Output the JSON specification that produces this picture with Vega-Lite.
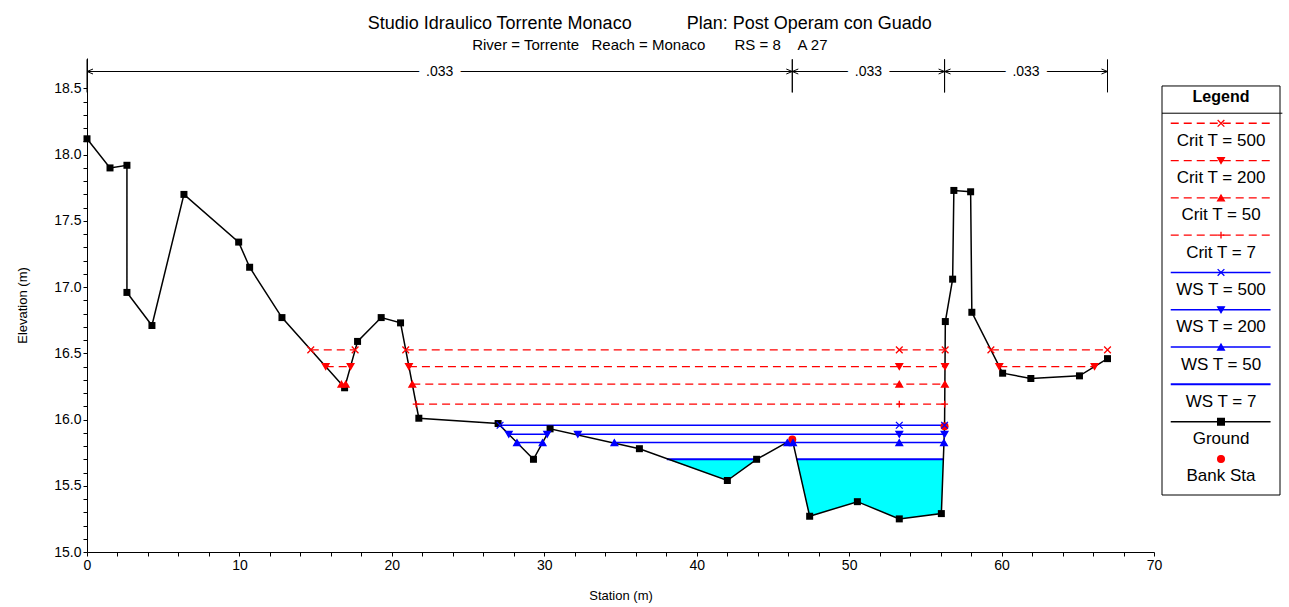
{
  "$schema": "https://vega.github.io/schema/vega-lite/v6.json",
  "background": "white",
  "padding": {"left": 16, "top": 15, "right": 4, "bottom": 2},
  "title": {
    "text": "Studio Idraulico Torrente Monaco\u00a0\u00a0\u00a0\u00a0\u00a0\u00a0\u00a0\u00a0\u00a0\u00a0\u00a0Plan: Post Operam con Guado",
    "subtitle": "River = Torrente\u00a0\u00a0\u00a0Reach = Monaco\u00a0\u00a0\u00a0\u00a0\u00a0\u00a0\u00a0RS = 8\u00a0\u00a0\u00a0\u00a0A 27",
    "font": "Liberation Sans", "fontSize": 18, "fontWeight": "normal", "color": "black",
    "subtitleFont": "Liberation Sans", "subtitleFontSize": 15, "subtitleColor": "black",
    "subtitlePadding": 5, "anchor": "middle", "offset": 5
  },
  "spacing": 8,
  "bounds": "flush",
  "datasets": {
    "ground": [
      {"i": 1, "s": 0, "e": 18.12, "bank": false},
      {"i": 2, "s": 1.51, "e": 17.9, "bank": false},
      {"i": 3, "s": 2.62, "e": 17.92, "bank": false},
      {"i": 4, "s": 2.62, "e": 16.96, "bank": false},
      {"i": 5, "s": 4.26, "e": 16.71, "bank": false},
      {"i": 6, "s": 6.36, "e": 17.7, "bank": false},
      {"i": 7, "s": 9.95, "e": 17.34, "bank": false},
      {"i": 8, "s": 10.67, "e": 17.15, "bank": false},
      {"i": 9, "s": 12.79, "e": 16.77, "bank": false},
      {"i": 10, "s": 16.9, "e": 16.24, "bank": false},
      {"i": 11, "s": 17.75, "e": 16.59, "bank": false},
      {"i": 12, "s": 19.3, "e": 16.77, "bank": false},
      {"i": 13, "s": 20.57, "e": 16.73, "bank": false},
      {"i": 14, "s": 21.77, "e": 16.01, "bank": false},
      {"i": 15, "s": 26.97, "e": 15.97, "bank": false},
      {"i": 16, "s": 29.29, "e": 15.7, "bank": false},
      {"i": 17, "s": 30.38, "e": 15.93, "bank": false},
      {"i": 18, "s": 36.24, "e": 15.78, "bank": false},
      {"i": 19, "s": 42.01, "e": 15.54, "bank": false},
      {"i": 20, "s": 43.93, "e": 15.7, "bank": false},
      {"i": 21, "s": 46.27, "e": 15.85, "bank": true},
      {"i": 22, "s": 47.41, "e": 15.27, "bank": false},
      {"i": 23, "s": 50.54, "e": 15.38, "bank": false},
      {"i": 24, "s": 53.29, "e": 15.25, "bank": false},
      {"i": 25, "s": 56.05, "e": 15.29, "bank": false},
      {"i": 26, "s": 56.26, "e": 15.95, "bank": true},
      {"i": 27, "s": 56.31, "e": 16.74, "bank": false},
      {"i": 28, "s": 56.79, "e": 17.06, "bank": false},
      {"i": 29, "s": 56.87, "e": 17.73, "bank": false},
      {"i": 30, "s": 57.97, "e": 17.72, "bank": false},
      {"i": 31, "s": 58.05, "e": 16.81, "bank": false},
      {"i": 32, "s": 60.07, "e": 16.35, "bank": false},
      {"i": 33, "s": 61.92, "e": 16.31, "bank": false},
      {"i": 34, "s": 65.11, "e": 16.33, "bank": false},
      {"i": 35, "s": 66.95, "e": 16.46, "bank": false}
    ],
    "fill": [
      {"region": "A", "s": 38.04, "e": 15.7},
      {"region": "A", "s": 42.01, "e": 15.54},
      {"region": "A", "s": 43.93, "e": 15.7},
      {"region": "B", "s": 46.55, "e": 15.7},
      {"region": "B", "s": 47.41, "e": 15.27},
      {"region": "B", "s": 50.54, "e": 15.38},
      {"region": "B", "s": 53.29, "e": 15.25},
      {"region": "B", "s": 56.05, "e": 15.29},
      {"region": "B", "s": 56.18, "e": 15.7}
    ],
    "lines": [
      {"name": "Crit T = 500", "s1": 14.68, "s2": 17.59, "e": 16.526},
      {"name": "Crit T = 500", "s1": 20.91, "s2": 56.3, "e": 16.526},
      {"name": "Crit T = 500", "s1": 59.3, "s2": 66.95, "e": 16.526},
      {"name": "Crit T = 200", "s1": 15.66, "s2": 17.29, "e": 16.4},
      {"name": "Crit T = 200", "s1": 21.12, "s2": 56.29, "e": 16.4},
      {"name": "Crit T = 200", "s1": 59.85, "s2": 66.1, "e": 16.4},
      {"name": "Crit T = 50", "s1": 16.69, "s2": 16.97, "e": 16.267},
      {"name": "Crit T = 50", "s1": 21.34, "s2": 56.28, "e": 16.267},
      {"name": "Crit T = 7", "s1": 21.59, "s2": 56.27, "e": 16.116},
      {"name": "WS T = 500", "s1": 27.08, "s2": 56.26, "e": 15.957},
      {"name": "WS T = 200", "s1": 27.67, "s2": 30.19, "e": 15.889},
      {"name": "WS T = 200", "s1": 32.1, "s2": 56.26, "e": 15.889},
      {"name": "WS T = 50", "s1": 28.21, "s2": 29.89, "e": 15.826},
      {"name": "WS T = 50", "s1": 34.55, "s2": 56.22, "e": 15.826},
      {"name": "WS T = 7", "s1": 38.04, "s2": 43.93, "e": 15.7},
      {"name": "WS T = 7", "s1": 46.55, "s2": 56.18, "e": 15.7}
    ],
    "marks": [
      {"name": "Crit T = 500", "s": 14.68, "e": 16.526},
      {"name": "Crit T = 500", "s": 17.59, "e": 16.526},
      {"name": "Crit T = 500", "s": 20.91, "e": 16.526},
      {"name": "Crit T = 500", "s": 53.29, "e": 16.526},
      {"name": "Crit T = 500", "s": 56.3, "e": 16.526},
      {"name": "Crit T = 500", "s": 59.3, "e": 16.526},
      {"name": "Crit T = 500", "s": 66.95, "e": 16.526},
      {"name": "Crit T = 200", "s": 15.66, "e": 16.4},
      {"name": "Crit T = 200", "s": 17.29, "e": 16.4},
      {"name": "Crit T = 200", "s": 21.12, "e": 16.4},
      {"name": "Crit T = 200", "s": 53.29, "e": 16.4},
      {"name": "Crit T = 200", "s": 56.29, "e": 16.4},
      {"name": "Crit T = 200", "s": 59.85, "e": 16.4},
      {"name": "Crit T = 200", "s": 66.1, "e": 16.4},
      {"name": "Crit T = 50", "s": 16.69, "e": 16.267},
      {"name": "Crit T = 50", "s": 16.97, "e": 16.267},
      {"name": "Crit T = 50", "s": 21.34, "e": 16.267},
      {"name": "Crit T = 50", "s": 53.29, "e": 16.267},
      {"name": "Crit T = 50", "s": 56.28, "e": 16.267},
      {"name": "Crit T = 7", "s": 21.59, "e": 16.116},
      {"name": "Crit T = 7", "s": 53.29, "e": 16.116},
      {"name": "Crit T = 7", "s": 56.27, "e": 16.116},
      {"name": "WS T = 500", "s": 27.1, "e": 15.957},
      {"name": "WS T = 500", "s": 53.29, "e": 15.957},
      {"name": "WS T = 500", "s": 56.26, "e": 15.957},
      {"name": "WS T = 200", "s": 27.67, "e": 15.889},
      {"name": "WS T = 200", "s": 30.19, "e": 15.889},
      {"name": "WS T = 200", "s": 32.2, "e": 15.889},
      {"name": "WS T = 200", "s": 53.29, "e": 15.889},
      {"name": "WS T = 200", "s": 56.26, "e": 15.889},
      {"name": "WS T = 50", "s": 28.21, "e": 15.826},
      {"name": "WS T = 50", "s": 29.89, "e": 15.826},
      {"name": "WS T = 50", "s": 34.6, "e": 15.826},
      {"name": "WS T = 50", "s": 45.95, "e": 15.826},
      {"name": "WS T = 50", "s": 46.32, "e": 15.826},
      {"name": "WS T = 50", "s": 53.29, "e": 15.826},
      {"name": "WS T = 50", "s": 56.22, "e": 15.826}
    ],
    "nvals": [
      {"zone": 1, "s": 0, "end": "L", "n": ".033"},
      {"zone": 1, "s": 46.27, "end": "R", "n": ".033"},
      {"zone": 2, "s": 46.27, "end": "L", "n": ".033"},
      {"zone": 2, "s": 56.26, "end": "R", "n": ".033"},
      {"zone": 3, "s": 56.26, "end": "L", "n": ".033"},
      {"zone": 3, "s": 66.95, "end": "R", "n": ".033"}
    ],
    "legend": [
      {"name": "Crit T = 500", "k": 0},
      {"name": "Crit T = 200", "k": 1},
      {"name": "Crit T = 50", "k": 2},
      {"name": "Crit T = 7", "k": 3},
      {"name": "WS T = 500", "k": 4},
      {"name": "WS T = 200", "k": 5},
      {"name": "WS T = 50", "k": 6},
      {"name": "WS T = 7", "k": 7},
      {"name": "Ground", "k": 8},
      {"name": "Bank Sta", "k": 9}
    ]
  },
  "hconcat": [
    {
      "width": 1067,
      "height": 494,
      "view": {"stroke": null},
      "layer": [
        {
          "data": {"name": "fill"},
          "mark": {"type": "area", "color": "#00ffff", "opacity": 1},
          "encoding": {
            "x": {"field": "s", "type": "quantitative", "scale": {"domain": [0, 70], "nice": false, "zero": false},
                  "axis": {"title": "Station (m)", "tickCount": 200, "values": [0,2,4,6,8,10,12,14,16,18,20,22,24,26,28,30,32,34,36,38,40,42,44,46,48,50,52,54,56,58,60,62,64,66,68,70],
                           "labelExpr": "datum.value % 10 === 0 ? format(datum.value, 'd') : ''", "labelOverlap": false, "labelFlush": false, "titlePadding": 17}},
            "y": {"field": "e", "type": "quantitative", "scale": {"domain": [15, 18.73], "nice": false, "zero": false},
                  "axis": {"title": "Elevation (m)", "tickCount": 200, "values": [15,15.1,15.2,15.3,15.4,15.5,15.6,15.7,15.8,15.9,16,16.1,16.2,16.3,16.4,16.5,16.6,16.7,16.8,16.9,17,17.1,17.2,17.3,17.4,17.5,17.6,17.7,17.8,17.9,18,18.1,18.2,18.3,18.4,18.5],
                           "labelExpr": "abs(datum.value * 2 - round(datum.value * 2)) < 0.001 ? format(datum.value, '.1f') : ''", "labelOverlap": false, "titlePadding": 24}},
            "y2": {"datum": 15.7},
            "detail": {"field": "region", "type": "nominal"}
          }
        },
        {
          "data": {"name": "nvals"},
          "mark": {"type": "line", "color": "black", "strokeWidth": 1},
          "encoding": {
            "x": {"field": "s", "type": "quantitative"},
            "y": {"datum": 18.628, "type": "quantitative"},
            "detail": {"field": "zone", "type": "nominal"}
          }
        },
        {
          "data": {"name": "nvals"},
          "mark": {"type": "rule", "color": "black", "strokeWidth": 1},
          "encoding": {
            "x": {"field": "s", "type": "quantitative"},
            "y": {"datum": 18.47, "type": "quantitative"},
            "y2": {"datum": 18.72}
          }
        },
        {
          "data": {"name": "nvals"},
          "transform": [{"filter": "datum.end === 'L'"}],
          "mark": {"type": "point", "shape": "M2,-0.83L0,0L2,0.83", "filled": false, "stroke": "black", "strokeWidth": 1, "size": 36, "opacity": 1},
          "encoding": {
            "x": {"field": "s", "type": "quantitative"},
            "y": {"datum": 18.628, "type": "quantitative"}
          }
        },
        {
          "data": {"name": "nvals"},
          "transform": [{"filter": "datum.end === 'R'"}],
          "mark": {"type": "point", "shape": "M-2,-0.83L0,0L-2,0.83", "filled": false, "stroke": "black", "strokeWidth": 1, "size": 36, "opacity": 1},
          "encoding": {
            "x": {"field": "s", "type": "quantitative"},
            "y": {"datum": 18.628, "type": "quantitative"}
          }
        },
        {
          "data": {"name": "nvals"},
          "mark": {"type": "text", "font": "Liberation Sans", "fontSize": 14, "stroke": "white", "strokeWidth": 16, "fill": "white", "baseline": "middle", "align": "center"},
          "encoding": {
            "x": {"aggregate": "mean", "field": "s", "type": "quantitative"},
            "y": {"datum": 18.628, "type": "quantitative"},
            "text": {"field": "n", "type": "nominal"},
            "detail": {"field": "zone", "type": "nominal"}
          }
        },
        {
          "data": {"name": "nvals"},
          "mark": {"type": "text", "font": "Liberation Sans", "fontSize": 14, "color": "black", "baseline": "middle", "align": "center"},
          "encoding": {
            "x": {"aggregate": "mean", "field": "s", "type": "quantitative"},
            "y": {"datum": 18.628, "type": "quantitative"},
            "text": {"field": "n", "type": "nominal"},
            "detail": {"field": "zone", "type": "nominal"}
          }
        },
        {
          "data": {"name": "lines"},
          "mark": {"type": "rule"},
          "encoding": {
            "x": {"field": "s1", "type": "quantitative"},
            "x2": {"field": "s2"},
            "y": {"field": "e", "type": "quantitative"},
            "color": {"field": "name", "type": "nominal", "scale": {"domain": ["Crit T = 500","Crit T = 200","Crit T = 50","Crit T = 7","WS T = 500","WS T = 200","WS T = 50","WS T = 7","Ground","Bank Sta"], "range": ["#ff0000","#ff0000","#ff0000","#ff0000","#0000ff","#0000ff","#0000ff","#0000ff","#000000","#ff0000"]}, "legend": null},
            "strokeDash": {"field": "name", "type": "nominal", "scale": {"domain": ["Crit T = 500","Crit T = 200","Crit T = 50","Crit T = 7","WS T = 500","WS T = 200","WS T = 50","WS T = 7","Ground","Bank Sta"], "range": [[8,5],[8,5],[8,5],[8,5],[1,0],[1,0],[1,0],[1,0],[1,0],[1,0]]}, "legend": null},
            "strokeWidth": {"field": "name", "type": "ordinal", "scale": {"type": "ordinal", "domain": ["Crit T = 500","Crit T = 200","Crit T = 50","Crit T = 7","WS T = 500","WS T = 200","WS T = 50","WS T = 7","Ground","Bank Sta"], "range": [1.3,1.3,1.3,1.3,1.5,1.5,1.5,2,1.5,1]}, "legend": null}
          }
        },
        {
          "data": {"name": "ground"},
          "mark": {"type": "line", "color": "black", "strokeWidth": 1.5},
          "encoding": {
            "x": {"field": "s", "type": "quantitative"},
            "y": {"field": "e", "type": "quantitative"},
            "order": {"field": "i", "type": "quantitative"}
          }
        },
        {
          "data": {"name": "ground"},
          "transform": [{"filter": "!datum.bank"}],
          "mark": {"type": "point", "shape": "square", "filled": true, "color": "black", "size": 49, "opacity": 1},
          "encoding": {
            "x": {"field": "s", "type": "quantitative"},
            "y": {"field": "e", "type": "quantitative"}
          }
        },
        {
          "data": {"name": "ground"},
          "transform": [{"filter": "datum.bank"}],
          "mark": {"type": "point", "shape": "circle", "filled": true, "color": "#ff0000", "size": 64, "opacity": 1},
          "encoding": {
            "x": {"field": "s", "type": "quantitative"},
            "y": {"field": "e", "type": "quantitative"}
          }
        },
        {
          "data": {"name": "marks"},
          "mark": {"type": "point", "filled": true, "size": 45, "opacity": 1, "strokeWidth": 1.3},
          "encoding": {
            "x": {"field": "s", "type": "quantitative"},
            "y": {"field": "e", "type": "quantitative"},
            "shape": {"field": "name", "type": "nominal", "scale": {"domain": ["Crit T = 500","Crit T = 200","Crit T = 50","Crit T = 7","WS T = 500","WS T = 200","WS T = 50","WS T = 7","Ground","Bank Sta"], "range": ["M-1,-1L1,1M-1,1L1,-1","triangle-down","triangle-up","M-1,0L1,0M0,-1L0,1","M-1,-1L1,1M-1,1L1,-1","triangle-down","triangle-up","circle","square","circle"]}, "legend": null},
            "color": {"field": "name", "type": "nominal", "scale": {"domain": ["Crit T = 500","Crit T = 200","Crit T = 50","Crit T = 7","WS T = 500","WS T = 200","WS T = 50","WS T = 7","Ground","Bank Sta"], "range": ["#ff0000","#ff0000","#ff0000","#ff0000","#0000ff","#0000ff","#0000ff","#0000ff","#000000","#ff0000"]}, "legend": null},
            "stroke": {"field": "name", "type": "nominal", "scale": {"domain": ["Crit T = 500","Crit T = 200","Crit T = 50","Crit T = 7","WS T = 500","WS T = 200","WS T = 50","WS T = 7","Ground","Bank Sta"], "range": ["#ff0000","#ff0000","#ff0000","#ff0000","#0000ff","#0000ff","#0000ff","#0000ff","#000000","#ff0000"]}, "legend": null}
          }
        }
      ]
    },
    {
      "width": 118,
      "height": 437,
      "view": {"stroke": null},
      "layer": [
        {
          "data": {"values": [{}]},
          "mark": {"type": "rect", "fill": "white", "stroke": "black", "strokeWidth": 1},
          "encoding": {
            "x": {"datum": 0, "type": "quantitative", "scale": {"domain": [0, 1], "nice": false, "zero": false}, "axis": null},
            "x2": {"datum": 1},
            "y": {"datum": -1.0, "type": "quantitative", "scale": {"domain": [-1.75, 9.966], "reverse": true, "nice": false, "zero": false}, "axis": null},
            "y2": {"datum": 9.966}
          }
        },
        {
          "data": {"values": [{}]},
          "mark": {"type": "rule", "color": "black", "strokeWidth": 1},
          "encoding": {
            "x": {"datum": 0, "type": "quantitative", "axis": null},
            "x2": {"datum": 1.02},
            "y": {"datum": -0.27, "type": "quantitative", "axis": null}
          }
        },
        {
          "data": {"values": [{}]},
          "mark": {"type": "text", "text": "Legend", "font": "Liberation Sans", "fontSize": 16, "fontWeight": "bold", "color": "black", "align": "center", "baseline": "middle"},
          "encoding": {
            "x": {"datum": 0.5, "type": "quantitative", "axis": null},
            "y": {"datum": -0.7, "type": "quantitative", "axis": null}
          }
        },
        {
          "data": {"name": "legend"},
          "transform": [{"filter": "datum.k <= 8"}],
          "mark": {"type": "rule"},
          "encoding": {
            "x": {"datum": 0.074, "type": "quantitative", "axis": null},
            "x2": {"datum": 0.92},
            "y": {"field": "k", "type": "quantitative", "axis": null},
            "color": {"field": "name", "type": "nominal", "scale": {"domain": ["Crit T = 500","Crit T = 200","Crit T = 50","Crit T = 7","WS T = 500","WS T = 200","WS T = 50","WS T = 7","Ground","Bank Sta"], "range": ["#ff0000","#ff0000","#ff0000","#ff0000","#0000ff","#0000ff","#0000ff","#0000ff","#000000","#ff0000"]}, "legend": null},
            "strokeDash": {"field": "name", "type": "nominal", "scale": {"domain": ["Crit T = 500","Crit T = 200","Crit T = 50","Crit T = 7","WS T = 500","WS T = 200","WS T = 50","WS T = 7","Ground","Bank Sta"], "range": [[8,5],[8,5],[8,5],[8,5],[1,0],[1,0],[1,0],[1,0],[1,0],[1,0]]}, "legend": null},
            "strokeWidth": {"field": "name", "type": "ordinal", "scale": {"type": "ordinal", "domain": ["Crit T = 500","Crit T = 200","Crit T = 50","Crit T = 7","WS T = 500","WS T = 200","WS T = 50","WS T = 7","Ground","Bank Sta"], "range": [1.3,1.3,1.3,1.3,1.5,1.5,1.5,2,1.5,1]}, "legend": null}
          }
        },
        {
          "data": {"name": "legend"},
          "transform": [{"filter": "datum.name !== 'WS T = 7'"}],
          "mark": {"type": "point", "filled": true, "size": 45, "opacity": 1, "strokeWidth": 1.3},
          "encoding": {
            "x": {"datum": 0.5, "type": "quantitative", "axis": null},
            "y": {"field": "k", "type": "quantitative", "axis": null},
            "shape": {"field": "name", "type": "nominal", "scale": {"domain": ["Crit T = 500","Crit T = 200","Crit T = 50","Crit T = 7","WS T = 500","WS T = 200","WS T = 50","WS T = 7","Ground","Bank Sta"], "range": ["M-1,-1L1,1M-1,1L1,-1","triangle-down","triangle-up","M-1,0L1,0M0,-1L0,1","M-1,-1L1,1M-1,1L1,-1","triangle-down","triangle-up","circle","square","circle"]}, "legend": null},
            "color": {"field": "name", "type": "nominal", "scale": {"domain": ["Crit T = 500","Crit T = 200","Crit T = 50","Crit T = 7","WS T = 500","WS T = 200","WS T = 50","WS T = 7","Ground","Bank Sta"], "range": ["#ff0000","#ff0000","#ff0000","#ff0000","#0000ff","#0000ff","#0000ff","#0000ff","#000000","#ff0000"]}, "legend": null},
            "stroke": {"field": "name", "type": "nominal", "scale": {"domain": ["Crit T = 500","Crit T = 200","Crit T = 50","Crit T = 7","WS T = 500","WS T = 200","WS T = 50","WS T = 7","Ground","Bank Sta"], "range": ["#ff0000","#ff0000","#ff0000","#ff0000","#0000ff","#0000ff","#0000ff","#0000ff","#000000","#ff0000"]}, "legend": null}
          }
        },
        {
          "data": {"name": "legend"},
          "mark": {"type": "text", "font": "Liberation Sans", "fontSize": 17, "color": "black", "align": "center", "baseline": "middle", "dy": 17.5},
          "encoding": {
            "x": {"datum": 0.5, "type": "quantitative", "axis": null},
            "y": {"field": "k", "type": "quantitative", "axis": null},
            "text": {"field": "name", "type": "nominal"}
          }
        }
      ]
    }
  ],
  "config": {
    "font": "Liberation Sans",
    "axis": {
      "domainColor": "black", "tickColor": "black", "labelColor": "black", "titleColor": "black",
      "labelFont": "Liberation Sans", "titleFont": "Liberation Sans", "labelFontSize": 14, "titleFontSize": 13,
      "titleFontWeight": "normal", "grid": false, "tickSize": 4, "labelPadding": 2, "domainWidth": 1, "tickWidth": 1,
      "labelOverlap": false, "labelFlush": false
    }
  }
}
